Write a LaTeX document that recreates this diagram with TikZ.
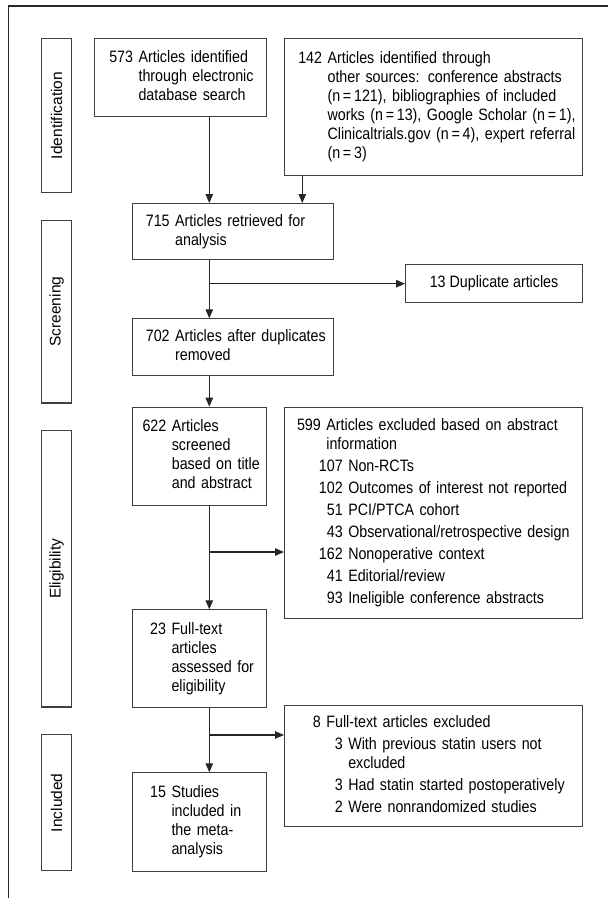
\documentclass[tikz,border=0pt]{standalone}
\usepackage{fontspec}
\setmainfont{Liberation Sans}[FakeStretch=0.865]
\newfontfamily\stagefont{Liberation Sans}
\usetikzlibrary{arrows.meta}
\newcommand{\sub}[2]{\hspace*{16.4pt}\llap{#1}\ #2}

\begin{document}
\begin{tikzpicture}[x=1pt,y=-1pt,
  >={Triangle[length=9pt,width=7.5pt]},
  box/.style={draw=black!75,line width=1.1pt,anchor=north west,align=left,
    inner ysep=0pt,font=\fontsize{16.5}{19}\selectfont},
  stage/.style={draw=black!75,line width=1.1pt,rotate=90,inner sep=0pt,
    minimum height=30.2pt,font=\stagefont\fontsize{15.5}{18}\selectfont},
  flow/.style={->,line width=1.1pt,black!85}]
\useasboundingbox (0,0) rectangle (608,898);
\draw[line width=1.3pt,black!85] (608,6) -- (8.5,6) -- (8.5,898);

\node[stage,minimum width=154.4pt] (sid) at (56.6,115.5) {Identification};
\node[stage,minimum width=182.7pt] (sscr) at (56.6,311.6) {Screening};
\node[stage,minimum width=276.3pt] (selig) at (56.6,568.8) {Eligibility};
\node[stage,minimum width=136pt] (sincl) at (56.6,802.7) {Included};

\node[box,inner xsep=14.5pt,text width=142.7pt,minimum height=78pt] (a573) at (94.2,38.3)
{\begin{tabular}{@{}r@{\ }l@{}}573 & Articles identified\\ & through electronic\\ & database search\end{tabular}};
\node[box,inner xsep=13.7pt,text width=270.6pt,minimum height=136.7pt] (a142) at (284,38.3)
{\begin{tabular}{@{}r@{\ }l@{}}142 & Articles identified through\\ & other sources: conference abstracts\\
 & (n\,=\,121), bibliographies of included\\ & works (n\,=\,13), Google Scholar (n\,=\,1),\\
 & Clinicaltrials.gov (n\,=\,4), expert referral\\ & (n\,=\,3)\end{tabular}};
\node[box,inner xsep=13.3pt,text width=174pt,minimum height=56.3pt] (a715) at (132,203)
{\begin{tabular}{@{}r@{\ }l@{}}715 & Articles retrieved for\\ & analysis\end{tabular}};
\node[box,inner xsep=0pt,align=center,minimum width=177pt,minimum height=37.7pt] (dup) at (405,264.3)
{13 Duplicate articles};
\node[box,inner xsep=13.3pt,text width=174pt,minimum height=56.4pt] (a702) at (132,318.3)
{\begin{tabular}{@{}r@{\ }l@{}}702 & Articles after duplicates\\ & removed\end{tabular}};
\node[box,inner xsep=10pt,text width=114pt,minimum height=98.6pt] (a622) at (132,406.7)
{\begin{tabular}{@{}r@{\ }l@{}}622 & Articles\\ & screened\\ & based on title\\ & and abstract\end{tabular}};
\node[box,inner xsep=12.5pt,text width=273pt,minimum height=211pt] (ex1) at (284,406.7)
{\begin{tabular}{@{}r@{\ }l@{}}599 & Articles excluded based on abstract\\ & information\\[3pt]
 & \sub{107}{Non-RCTs}\\[3pt]
 & \sub{102}{Outcomes of interest not reported}\\[3pt]
 & \sub{51}{PCI/PTCA cohort}\\[3pt]
 & \sub{43}{Observational/retrospective design}\\[3pt]
 & \sub{162}{Nonoperative context}\\[3pt]
 & \sub{41}{Editorial/review}\\[3pt]
 & \sub{93}{Ineligible conference abstracts}\end{tabular}};
\node[box,inner xsep=17.6pt,text width=98.8pt,minimum height=98pt] (a23) at (132,609.3)
{\begin{tabular}{@{}r@{\ }l@{}}23 & Full-text\\ & articles\\ & assessed for\\ & eligibility\end{tabular}};
\node[box,inner xsep=28.4pt,text width=241.2pt,minimum height=120.4pt] (ex2) at (284,705.3)
{\begin{tabular}{@{}r@{\ }l@{}}8 & Full-text articles excluded\\[3pt]
 & \sub{3}{With previous statin users not}\\
 & \sub{}{excluded}\\[3pt]
 & \sub{3}{Had statin started postoperatively}\\[3pt]
 & \sub{2}{Were nonrandomized studies}\end{tabular}};
\node[box,inner xsep=17.6pt,text width=98.8pt,minimum height=98.4pt] (a15) at (132,772.3)
{\begin{tabular}{@{}r@{\ }l@{}}15 & Studies\\ & included in\\ & the meta-\\ & analysis\end{tabular}};

\coordinate (trunk) at (209.3,0);
\coordinate (side) at (302.3,0);
\coordinate (split1) at (209.3,552);
\coordinate (split2) at (209.3,735);
\draw[flow] (a573.south -| trunk) -- (a715.north -| trunk);
\draw[flow] (a142.south -| side) -- (a715.north -| side);
\draw[flow] (a715.south -| trunk) -- (a702.north -| trunk);
\draw[flow] (dup.west -| trunk) -- (dup.west);
\draw[flow] (a702.south -| trunk) -- (a622.north -| trunk);
\draw[flow] (a622.south -| trunk) -- (a23.north -| trunk);
\draw[flow] (split1) -- (split1 -| ex1.west);
\draw[flow] (a23.south -| trunk) -- (a15.north -| trunk);
\draw[flow] (split2) -- (split2 -| ex2.west);
\end{tikzpicture}
\end{document}
